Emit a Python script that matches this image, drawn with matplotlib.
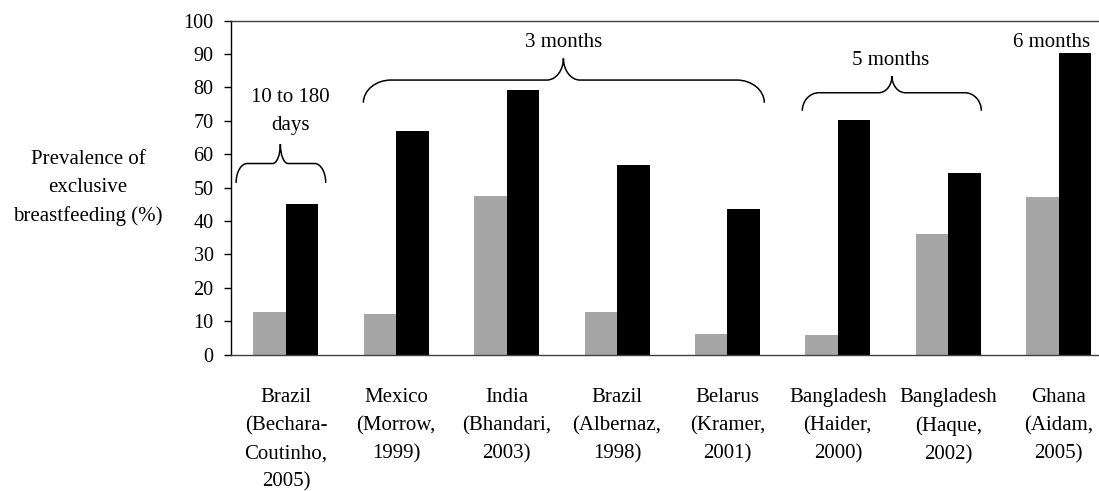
import matplotlib
matplotlib.use("Agg")
import matplotlib.pyplot as plt
from matplotlib.path import Path
from matplotlib.patches import PathPatch
import numpy as np

plt.rcParams['font.family'] = ['Liberation Serif', 'DejaVu Serif']

categories = [
    "Brazil\n(Bechara-\nCoutinho,\n2005)",
    "Mexico\n(Morrow,\n1999)",
    "India\n(Bhandari,\n2003)",
    "Brazil\n(Albernaz,\n1998)",
    "Belarus\n(Kramer,\n2001)",
    "Bangladesh\n(Haider,\n2000)",
    "Bangladesh\n(Haque,\n2002)",
    "Ghana\n(Aidam,\n2005)",
]
grey_values = [12.6, 12.2, 47.5, 12.6, 6.2, 5.7, 36.1, 47.2]
black_values = [45.2, 66.9, 79.1, 56.8, 43.5, 70.2, 54.3, 90.2]
y_ticks = [0, 10, 20, 30, 40, 50, 60, 70, 80, 90, 100]
y_label = "Prevalence of\nexclusive\nbreastfeeding (%)"
group_labels = ["10 to 180\ndays", "3 months", "5 months", "6 months"]

fig = plt.figure(figsize=(10.99, 4.91), dpi=100)
ax = fig.add_axes([0.2099, 0.278, 0.8036, 0.680])

x = np.arange(len(categories))
w = 0.294
ax.bar(x - w / 2, grey_values, width=w, color="#a6a6a6", linewidth=0)
ax.bar(x + w / 2, black_values, width=w, color="#000000", linewidth=0)

ax.set_xlim(-0.5, len(categories) - 0.5)
ax.set_ylim(0, 100)
ax.set_yticks(y_ticks)
ax.set_yticklabels([str(t) for t in y_ticks], fontsize=14.5)
ax.tick_params(axis='y', direction='out', length=5.3, width=1, pad=7)
ax.set_xticks(x)
ax.set_xticklabels(categories, fontsize=15, linespacing=1.65, va='top')
ax.tick_params(axis='x', length=0, pad=24)

ax.spines['right'].set_visible(False)
ax.spines['left'].set_color('black')
ax.spines['bottom'].set_color('#404040')
ax.spines['top'].set_color('#404040')
for s in ax.spines.values():
    s.set_linewidth(1)

fig.text(88 / 1099, 1 - 188 / 491, y_label, ha='center', va='center',
         fontsize=15, linespacing=1.63)


def brace(ax, x0, x1, xt, yb, ym, yt, rx=0.18, rt=0.12):
    k = 0.55
    verts = [
        (x0, yb),
        (x0, yb + k * (ym - yb)), (x0 + rx * (1 - k), ym), (x0 + rx, ym),
        (xt - rt, ym),
        (xt - rt * (1 - k), ym), (xt, ym + (1 - k) * (yt - ym)), (xt, yt),
        (xt, ym + (1 - k) * (yt - ym)), (xt + rt * (1 - k), ym), (xt + rt, ym),
        (x1 - rx, ym),
        (x1 - rx * (1 - k), ym), (x1, yb + k * (ym - yb)), (x1, yb),
    ]
    codes = [Path.MOVETO,
             Path.CURVE4, Path.CURVE4, Path.CURVE4,
             Path.LINETO,
             Path.CURVE4, Path.CURVE4, Path.CURVE4,
             Path.CURVE4, Path.CURVE4, Path.CURVE4,
             Path.LINETO,
             Path.CURVE4, Path.CURVE4, Path.CURVE4]
    ax.add_patch(PathPatch(Path(verts, codes), facecolor='none',
                           edgecolor='black', linewidth=1.1, clip_on=False))


brace(ax, -0.451, 0.361, -0.05, 51.4, 57.2, 63.0, rx=0.10, rt=0.07)
brace(ax, 0.702, 4.334, 2.514, 75.4, 82.2, 88.7, rx=0.25, rt=0.15)
brace(ax, 4.678, 6.30, 5.49, 73.0, 78.4, 83.4, rx=0.15, rt=0.12)

ax.text(0.04, 72.7, group_labels[0], ha='center', va='center', fontsize=15,
        linespacing=1.65)
ax.text(2.52, 93.3, group_labels[1], ha='center', va='center', fontsize=15)
ax.text(5.48, 88.0, group_labels[2], ha='center', va='center', fontsize=15)
ax.text(6.94, 93.5, group_labels[3], ha='center', va='center', fontsize=15)

fig.savefig("out.png", dpi=100)
